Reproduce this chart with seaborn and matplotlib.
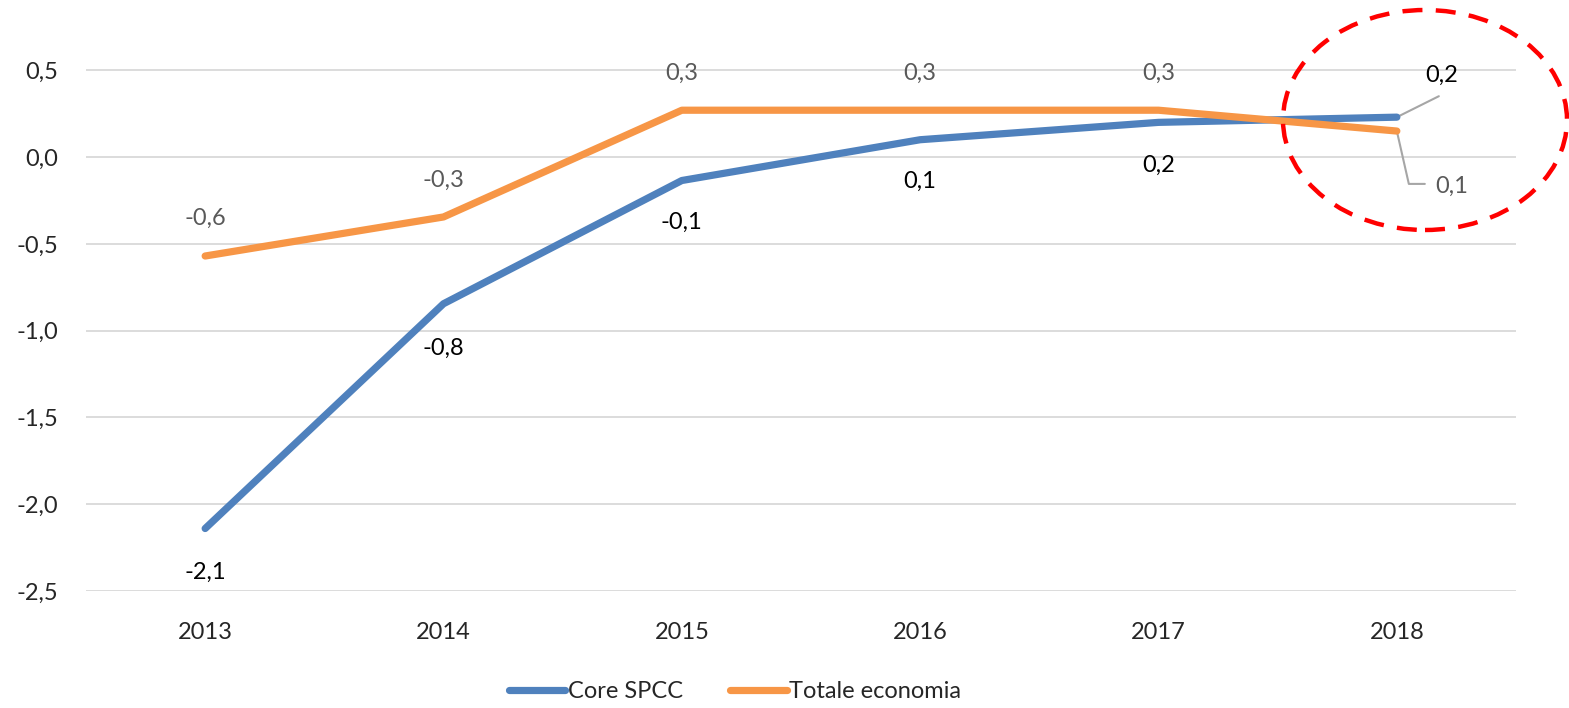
import matplotlib
matplotlib.use("Agg")
import matplotlib.pyplot as plt
import seaborn as sns
import pandas as pd
from matplotlib.patches import Ellipse

years = ["2013", "2014", "2015", "2016", "2017", "2018"]
core_spcc = [-2.14, -0.845, -0.135, 0.10, 0.20, 0.23]
totale_economia = [-0.57, -0.345, 0.27, 0.27, 0.27, 0.15]
core_labels = ["-2,1", "-0,8", "-0,1", "0,1", "0,2", "0,2"]
tot_labels = ["-0,6", "-0,3", "0,3", "0,3", "0,3", "0,1"]
y_ticks = [-2.5, -2.0, -1.5, -1.0, -0.5, 0.0, 0.5]
y_ticklabels = ["-2,5", "-2,0", "-1,5", "-1,0", "-0,5", "0,0", "0,5"]
series_names = ["Core SPCC", "Totale economia"]

sns.set_theme(style="white")
plt.rcParams['font.family'] = ['Lato', 'DejaVu Sans']

df = pd.DataFrame({
    "year": years * 2,
    "x": list(range(len(years))) * 2,
    "value": core_spcc + totale_economia,
    "series": [series_names[0]] * len(years) + [series_names[1]] * len(years),
})

FS = 17

fig = plt.figure(figsize=(15.69, 7.08), dpi=100)
ax = fig.add_axes([86/1569, 1 - 591/708, (1516-86)/1569, 591/708])

palette = {"Core SPCC": "#4f81bd", "Totale economia": "#f79646"}
sns.lineplot(data=df, x="x", y="value", hue="series", palette=palette,
             linewidth=5.2, ax=ax, legend=True, solid_capstyle="round")

ax.set_xlim(-0.5, len(years) - 0.5)
ax.set_ylim(-2.5, 0.905)
ax.set_yticks(y_ticks)
ax.set_yticklabels(y_ticklabels)
ax.set_xticks(range(len(years)))
ax.set_xticklabels(years)
ax.tick_params(axis="both", length=0, labelsize=FS, colors="#262626")
ax.tick_params(axis="y", pad=20)
ax.tick_params(axis="x", pad=22)
ax.set_xlabel("")
ax.set_ylabel("")
for s in ax.spines.values():
    s.set_visible(False)
ax.grid(axis="y", color="#d9d9d9", linewidth=1.3)
ax.set_axisbelow(True)

# data labels (offsets in pixels)
core_off = [(0, -44), (0, -45), (0, -42), (0, -42), (0, -43)]
tot_off = [(0, 38), (0, 37), (0, 37), (0, 37), (0, 37)]
for i in range(len(years) - 1):
    ax.annotate(core_labels[i], (i, core_spcc[i]), xytext=core_off[i],
                textcoords="offset pixels", ha="center", va="center",
                fontsize=FS, color="#000000")
    ax.annotate(tot_labels[i], (i, totale_economia[i]), xytext=tot_off[i],
                textcoords="offset pixels", ha="center", va="center",
                fontsize=FS, color="#595959")

i = len(years) - 1
ax.annotate(core_labels[i], (i, core_spcc[i]), xytext=(45, 42),
            textcoords="offset pixels", ha="center", va="center",
            fontsize=FS, color="#000000")
ax.plot([i, i + 42/238.3], [core_spcc[i], core_spcc[i] + 21/174.0],
        color="#a6a6a6", lw=1.5, zorder=1)
ax.annotate(tot_labels[i], (i, totale_economia[i]), xytext=(55, -55),
            textcoords="offset pixels", ha="center", va="center",
            fontsize=FS, color="#595959")
ax.plot([i, i + 12/238.3, i + 28/238.3],
        [totale_economia[i], totale_economia[i] - 53/174.0, totale_economia[i] - 53/174.0],
        color="#a6a6a6", lw=1.5, zorder=1)

leg = ax.legend(loc="center", bbox_to_anchor=(735/1569, 1 - 692/708),
                bbox_transform=fig.transFigure, ncol=2, frameon=False,
                fontsize=FS, handlelength=2.4, handletextpad=0.1,
                columnspacing=2.0)
for line in leg.get_lines():
    line.set_linewidth(5.2)

ell = Ellipse((1425/1569, 1 - 120/708), 284/1569, 220/708,
              transform=fig.transFigure, fill=False, edgecolor="#ff0000",
              linewidth=3.2, linestyle=(0, (4.5, 3)), zorder=10)
fig.patches.append(ell)

fig.savefig("out.png", dpi=100)
